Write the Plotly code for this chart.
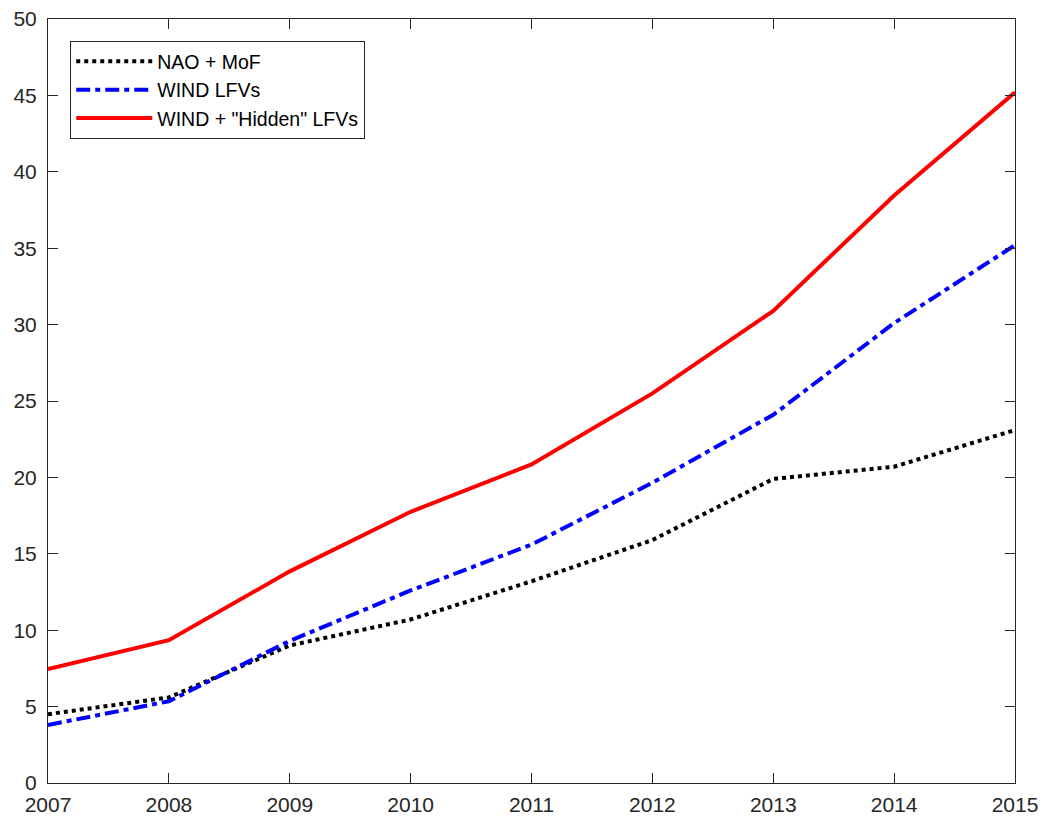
import plotly.graph_objects as go

years = [2007, 2008, 2009, 2010, 2011, 2012, 2013, 2014, 2015]
nao_mof = [4.5, 5.6, 9.0, 10.7, 13.2, 15.9, 19.9, 20.7, 23.1]
wind_lfvs = [3.8, 5.35, 9.3, 12.6, 15.6, 19.65, 24.1, 30.1, 35.2]
wind_hidden = [7.45, 9.35, 13.85, 17.75, 20.85, 25.5, 30.9, 38.45, 45.2]

fig = go.Figure()
fig.add_trace(go.Scatter(x=years, y=nao_mof, mode="lines", name="NAO + MoF",
                         line=dict(color="black", width=4, dash="4px,4px")))
fig.add_trace(go.Scatter(x=years, y=wind_lfvs, mode="lines", name="WIND LFVs",
                         line=dict(color="#0000ff", width=4, dash="14px,5px,5px,5px")))
fig.add_trace(go.Scatter(x=years, y=wind_hidden, mode="lines", name='WIND + "Hidden" LFVs',
                         line=dict(color="#ff0000", width=4)))

#Note Matlab style box with inward ticks on all sides
axis_style = dict(showline=True, linecolor="#262626", linewidth=1, mirror="ticks",
                  ticks="inside", ticklen=10, tickcolor="#262626", showgrid=False,
                  zeroline=False, automargin=False, ticklabeloverflow="allow",
                  tickfont=dict(size=21, color="#262626"))

fig.update_xaxes(range=[2007, 2015], tickmode="linear", tick0=2007, dtick=1,
                 ticklabelstandoff=3, **axis_style)
fig.update_yaxes(range=[0, 50], tickmode="linear", tick0=0, dtick=5,
                 ticklabelstandoff=6, **axis_style)

#Note page has ~8px body margin so figure is made a bit smaller than window
fig.update_layout(
    width=1038, height=812,
    margin=dict(l=40, r=31, t=11, b=37),
    paper_bgcolor="white", plot_bgcolor="white",
    font=dict(family="Liberation Sans, Arial, sans-serif", color="#262626"),
    legend=dict(x=0.023, y=0.971, xanchor="left", yanchor="top",
                bgcolor="white", bordercolor="#262626", borderwidth=1,
                itemwidth=76,
                font=dict(size=19.5, color="black"), tracegroupgap=0),
    showlegend=True,
)

fig.write_html("out.html")
